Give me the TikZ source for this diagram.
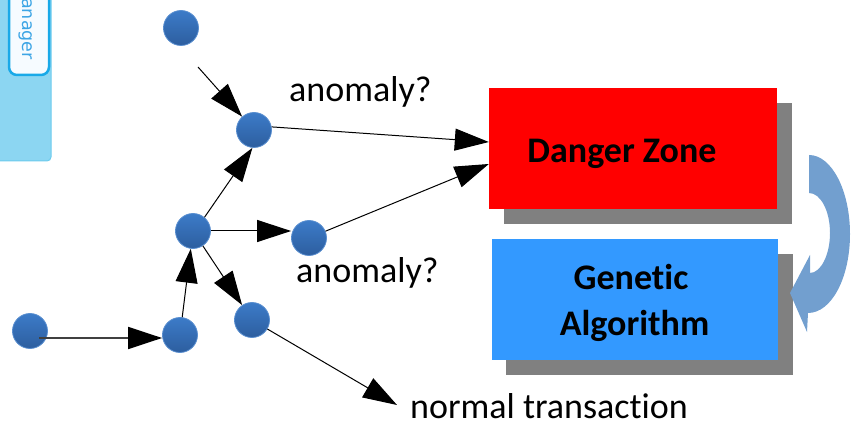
\documentclass[tikz,border=0pt]{standalone}
\usepackage{fontspec}
\setmainfont{Carlito}[Ligatures=NoCommon]
\newfontfamily\tabfont{DejaVu Sans}
\usetikzlibrary{arrows.meta,calc}
\definecolor{nodetop}{HTML}{3C7BC8}
\definecolor{nodebot}{HTML}{2D5E9F}
\definecolor{nodeedge}{HTML}{5A8FD0}
\definecolor{dzred}{HTML}{FF0000}
\definecolor{gablue}{HTML}{3399FF}
\definecolor{shadowgray}{HTML}{808080}
\definecolor{curvblue}{HTML}{729FCF}
\definecolor{panelblue}{HTML}{8CD6F2}
\definecolor{paneledge}{HTML}{6CCBED}
\definecolor{tabedge}{HTML}{19A9E8}
\definecolor{tabfill}{HTML}{F6FBFF}
\definecolor{tabtext}{HTML}{3DA5E5}
\tikzset{
  txnode/.style={circle, minimum size=35pt, inner sep=0pt, draw=nodeedge, line width=0.8pt,
    top color=nodetop, bottom color=nodebot},
  arr/.style={line width=1pt, -{Triangle[length=34pt,width=22pt]}},
  zonebox/.style={rectangle, minimum width=288pt, minimum height=121pt, inner sep=0pt},
  bigtext/.style={font=\fontsize{36}{45}\selectfont, inner sep=0pt},
  bigbold/.style={font=\fontsize{36}{45}\selectfont\bfseries, inner sep=0pt, align=center},
}
\begin{document}
\begin{tikzpicture}[x=1pt,y=-1pt]
\useasboundingbox (0,0) rectangle (857,422);
% left panel fragment
\draw[fill=panelblue, draw=paneledge, line width=1pt, rounded corners=4pt] (-6,-6) rectangle (51,161);
\draw[fill=tabfill, draw=tabedge, line width=2.5pt, rounded corners=8pt] (9,-12) rectangle (49,75);
\node[rotate=-90, anchor=base east, inner sep=0pt, text=tabtext, font=\tabfont\fontsize{17.5}{20}\selectfont] (tab) at (22.5,60) {anager};
% shadows
\fill[shadowgray] (504,103) rectangle (792,224);
\fill[shadowgray] (506,254) rectangle (793,375);
% boxes
\node[zonebox, fill=dzred] (dz) at (633,148.5) {};
\node[bigbold, anchor=base] (dzt) at (622,163) {Danger Zone};
\node[zonebox, fill=gablue, minimum width=286pt] (ga) at (635,299.5) {};
\node[bigbold, anchor=base] (ga1) at (631,290) {Genetic};
\node[bigbold, anchor=base] (ga2) at (634.5,335) {Algorithm};
% curved arrow
\fill[curvblue] (809,155) .. controls (831.6,155) and (850,190.4) .. (850,234)
  .. controls (850,277.6) and (831.6,313) .. (808,313)
  -- (807,332) -- (790,293) -- (810,255) -- (810,273)
  .. controls (820.6,273) and (830,255.1) .. (830,233)
  .. controls (830,210.9) and (820.6,193) .. (809,193) -- cycle;
% transaction nodes
\node[txnode] (n1) at (181,28) {};
\node[txnode] (n2) at (254,130) {};
\node[txnode] (n3) at (193,231) {};
\node[txnode] (n4) at (309,238) {};
\node[txnode] (n5) at (30,331) {};
\node[txnode] (n6) at (180,335) {};
\node[txnode] (n7) at (252,320) {};
% labels
\node[bigtext, anchor=base west] (lab1) at (289,102) {anomaly?};
\node[bigtext, anchor=base west] (lab2) at (296,283) {anomaly?};
\node[bigtext, anchor=base west] (nt) at (410,418) {normal transaction};
% free ends
\coordinate (s5) at (39,338);
\coordinate (s1) at (198,67);
\coordinate (t7) at (397,405);
% connectors
\draw[arr] (s1) -- (n2);
\draw[line width=1.6pt, draw=black!75, -{Triangle[length=34pt,width=22pt,color=black]}] (s5) -- (n6.west |- s5);
\draw[arr] (n6) -- (n3);
\draw[arr] (n3.50) -- (n2.265);
\draw[arr] (n3.east) -- (n3.east -| n4.west);
\draw[arr] (n3) -- (n7);
\draw[arr] (n2.10) -- ([yshift=6.5pt]dz.west);
\draw[arr] (n4) -- ([yshift=-15.5pt]dz.west);
\draw[arr] (n7) -- (t7);
\end{tikzpicture}
\end{document}
